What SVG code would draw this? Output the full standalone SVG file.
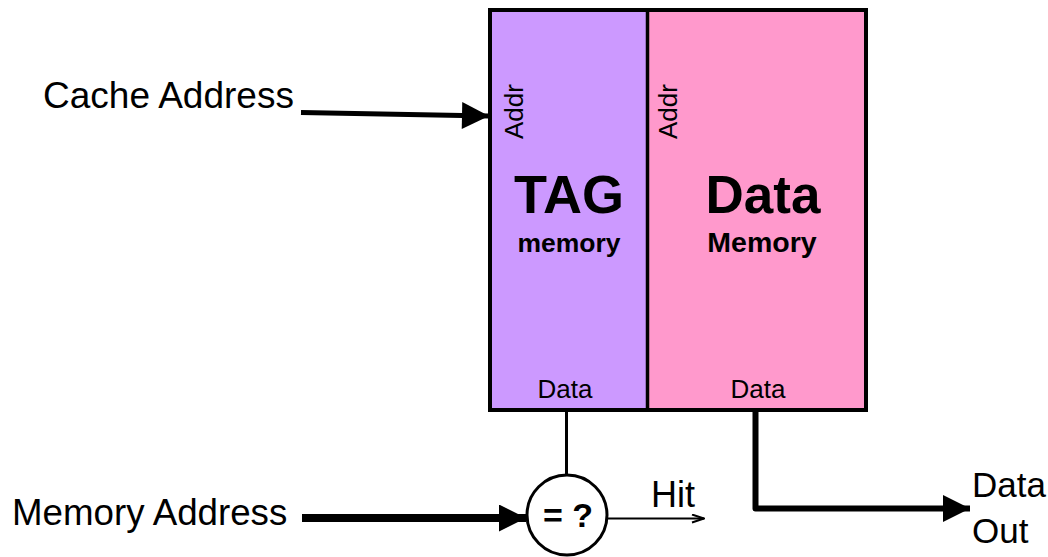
<svg xmlns="http://www.w3.org/2000/svg" width="1048" height="557" viewBox="0 0 1048 557">
  <style>
    text { font-family: "Liberation Sans", Arial, sans-serif; fill: #000; }
    .lbl { font-size: 37px; }
    .port { font-size: 26px; }
    .title { font-size: 54px; font-weight: bold; text-anchor: middle; }
    .sub { font-size: 26.5px; font-weight: bold; text-anchor: middle; }
    .wire { fill: none; stroke: #000; stroke-linecap: butt; stroke-linejoin: round; }
  </style>
  <defs>
    <marker id="headSolid" viewBox="0 0 10 10" refX="10" refY="5" markerUnits="userSpaceOnUse" markerWidth="36" markerHeight="27" orient="auto">
      <path d="M0,0 L10,5 L0,10 Z" fill="#000"/>
    </marker>
    <marker id="headOpen" viewBox="0 0 14 10" refX="13" refY="5" markerUnits="userSpaceOnUse" markerWidth="14" markerHeight="10" orient="auto">
      <path d="M1,1 L13,5 L1,9" fill="none" stroke="#000" stroke-width="2"/>
    </marker>
  </defs>

  <!-- tag store -->
  <g id="tag-memory">
    <rect x="490" y="10" width="157.5" height="400" fill="#CC99FF"/>
    <text class="port" transform="translate(523,139) rotate(-90)">Addr</text>
    <text class="title" x="569" y="213">TAG</text>
    <text class="sub" x="569" y="252">memory</text>
    <text class="port" x="565" y="398" text-anchor="middle">Data</text>
  </g>

  <!-- data store -->
  <g id="data-memory">
    <rect x="647.5" y="10" width="218.5" height="400" fill="#FF99CC"/>
    <text class="port" transform="translate(677,139) rotate(-90)">Addr</text>
    <text class="title" x="763" y="213" style="font-size:53px">Data</text>
    <text class="sub" x="762" y="252" style="font-size:28.5px">Memory</text>
    <text class="port" x="758" y="398" text-anchor="middle">Data</text>
  </g>

  <!-- outer frame and divider -->
  <g id="memory-frame">
    <rect x="490" y="10" width="376" height="400" fill="none" stroke="#000" stroke-width="4"/>
    <line x1="647.5" y1="10" x2="647.5" y2="410" stroke="#000" stroke-width="3.5"/>
  </g>

  <!-- comparator -->
  <g id="comparator">
    <circle cx="567" cy="515" r="40" fill="#fff" stroke="#000" stroke-width="3"/>
    <text x="568" y="527" text-anchor="middle" style="font-size:34px;font-weight:bold">= ?</text>
  </g>

  <!-- external labels -->
  <g id="cache-address">
    <text class="lbl" x="43" y="108">Cache Address</text>
  </g>
  <g id="memory-address">
    <text class="lbl" x="12" y="525" style="font-size:36.7px">Memory Address</text>
  </g>
  <g id="hit">
    <text class="lbl" x="651" y="507" style="font-size:36px">Hit</text>
  </g>
  <g id="data-out">
    <text class="lbl" x="972" y="497" style="font-size:35px">Data</text>
    <text class="lbl" x="972" y="543" style="font-size:35px">Out</text>
  </g>

  <!-- connectors -->
  <g id="connectors">
    <line class="wire" x1="301" y1="112.5" x2="489" y2="116" stroke-width="5" marker-end="url(#headSolid)"/>
    <line class="wire" x1="566.5" y1="412" x2="566.5" y2="475" stroke-width="3"/>
    <line class="wire" x1="302" y1="518" x2="526" y2="518" stroke-width="8" marker-end="url(#headSolid)"/>
    <line class="wire" x1="608" y1="518.5" x2="704" y2="518.5" stroke-width="2" marker-end="url(#headOpen)"/>
    <polyline class="wire" points="755.5,412 755.5,508.5 970,508.5" stroke-width="6" marker-end="url(#headSolid)"/>
  </g>
</svg>
